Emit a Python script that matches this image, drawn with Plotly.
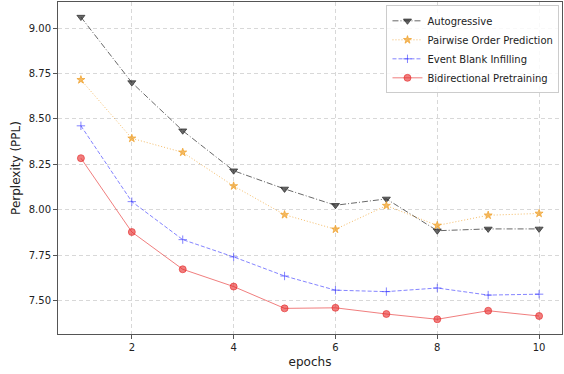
import plotly.graph_objects as go

epochs = [1, 2, 3, 4, 5, 6, 7, 8, 9, 10]
autoregressive = [9.06, 8.70, 8.435, 8.215, 8.115, 8.025, 8.06, 7.885, 7.895, 7.895]
pairwise = [8.715, 8.393, 8.316, 8.131, 7.973, 7.893, 8.023, 7.914, 7.97, 7.98]
event_blank = [8.462, 8.045, 7.836, 7.741, 7.636, 7.558, 7.55, 7.57, 7.531, 7.536]
bidirectional = [8.284, 7.878, 7.673, 7.578, 7.458, 7.461, 7.427, 7.398, 7.445, 7.416]

series = [
    ("Autogressive", autoregressive, "rgba(40,40,40,0.7)", "6px,2px,1px,2px", "triangle-down", 7),
    ("Pairwise Order Prediction", pairwise, "rgba(240,160,40,0.7)", "1px,2px", "star", 6),
    ("Event Blank Infilling", event_blank, "rgba(50,50,255,0.6)", "4px,2px", "cross-thin-open", 6),
    ("Bidirectional Pretraining", bidirectional, "rgba(230,40,40,0.6)", "solid", "circle", 7),
]

fig = go.Figure()
for name, vals, color, dash, sym, size in series:
    fig.add_trace(go.Scatter(
        x=epochs, y=vals, name=name, mode="lines+markers",
        line=dict(color=color, width=1, dash=dash),
        marker=dict(symbol=sym, size=size, color=color,
                    line=dict(color=color, width=1)),
    ))

axis_common = dict(
    showline=True, linecolor="#555", linewidth=1, mirror=True,
    ticks="outside", ticklen=4, tickcolor="#555",
    showgrid=True, gridcolor="rgba(190,190,190,0.6)", griddash="4px,3px", gridwidth=1,
    zeroline=False, tickfont=dict(size=10, color="#222"),
)

fig.update_layout(
    width=564, height=374,
    margin=dict(l=58, r=2, t=2, b=40),
    paper_bgcolor="white", plot_bgcolor="white",
    font=dict(family="DejaVu Sans", color="#222"),
    xaxis=dict(range=[0.55, 10.45], tickvals=[2, 4, 6, 8, 10],
               title=dict(text="epochs", font=dict(size=12), standoff=5), **axis_common),
    yaxis=dict(range=[7.317, 9.143], tickvals=[7.5, 7.75, 8.0, 8.25, 8.5, 8.75, 9.0],
               ticktext=["7.50", "7.75", "8.00", "8.25", "8.50", "8.75", "9.00"],
               title=dict(text="Perplexity (PPL)", font=dict(size=12), standoff=5), **axis_common),
    legend=dict(x=0.995, y=0.99, xanchor="right", yanchor="top",
                bgcolor="rgba(255,255,255,0.85)", bordercolor="#ccc", borderwidth=1,
                font=dict(size=10), tracegroupgap=0, itemwidth=30),
    showlegend=True,
)

fig.write_html("out.html", config={"displayModeBar": False})
with open("out.html", "r", encoding="utf-8") as f:
    html = f.read()
html = html.replace("<head>", "<head><style>html,body{margin:0;padding:0;overflow:hidden;}</style>", 1)
with open("out.html", "w", encoding="utf-8") as f:
    f.write(html)
